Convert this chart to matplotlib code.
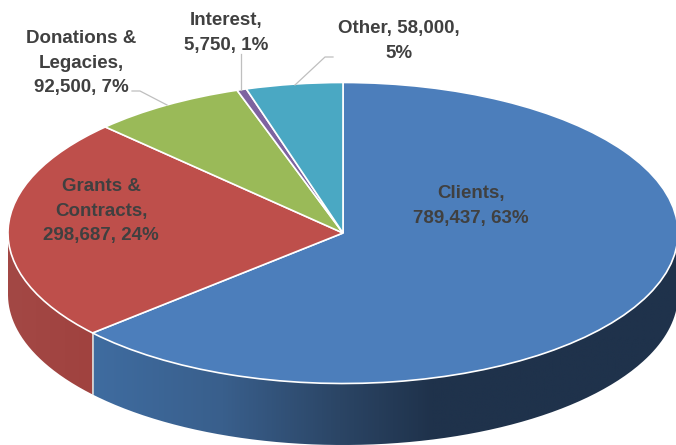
import numpy as np
import matplotlib
matplotlib.use("Agg")
import matplotlib.pyplot as plt
from matplotlib.colors import LinearSegmentedColormap
from matplotlib.patches import PathPatch
from matplotlib.path import Path

# Income by source, drawn clockwise from twelve o'clock
sources = ["Clients", "Grants & Contracts", "Donations & Legacies", "Interest", "Other"]
amounts = [789437, 298687, 92500, 5750, 58000]
top_colors = ["#4C7EBB", "#BE4F4B", "#9ABA58", "#7E63A0", "#4AA8C3"]
label_text = [
    "Clients,\n789,437, 63%",
    "Grants &\nContracts,\n298,687, 24%",
    "Donations &\nLegacies,\n92,500, 7%",
    "Interest,\n5,750, 1%",
    "Other, 58,000,\n5%",
]

W, H = 676, 445
CX, CY, RX, RY = 343.0, 233.0, 335.0, 150.5
DEPTH = 61.5 / RY

fig = plt.figure(figsize=(W / 100, H / 100), dpi=100)
ax = fig.add_axes([0, 0, 1, 1])


def px(x, y):
    """Convert image-style pixel coordinates to unit-disc coordinates."""
    return (x - CX) / RX, (CY - y) / RY


ax.pie(
    amounts,
    colors=top_colors,
    startangle=90,
    counterclock=False,
    radius=1,
    wedgeprops=dict(edgecolor="white", linewidth=1.2, zorder=5),
)

# Unequal axis scales squash the disc into the tilted ellipse
ax.set_aspect("auto")
x0, _ = px(0, 0)
x1, _ = px(W, 0)
_, y0 = px(0, H)
_, y1 = px(0, 0)
ax.set_xlim(x0, x1)
ax.set_ylim(y0, y1)
ax.axis("off")

# Rim of the disc: only the front half (180 to 360 degrees) can be seen
shares = np.array(amounts) / sum(amounts)
edges = 90 - 360 * np.concatenate([[0], np.cumsum(shares)])

rim_ramps = {
    0: [(0.0, "#3F6CA0"), (0.22, "#395F8C"), (0.42, "#2B4565"), (0.58, "#1F324B"), (1.0, "#1F324B")],
    1: [(0.0, "#A34845"), (1.0, "#A0423F")],
}
rim_spans = {0: (edges[1] + 360, 360.0), 1: (180.0, edges[1] + 360)}

for idx, (start, stop) in rim_spans.items():
    t = np.radians(np.linspace(start, stop, 200))
    xs, ys = np.cos(t), np.sin(t)
    verts = np.concatenate([
        np.column_stack([xs, ys]),
        np.column_stack([xs[::-1], ys[::-1] - DEPTH]),
        [[xs[0], ys[0]]],
    ])
    outline = Path(verts)
    clip = PathPatch(outline, transform=ax.transData, facecolor="none", edgecolor="none")
    ax.add_patch(clip)
    ramp = LinearSegmentedColormap.from_list(f"rim{idx}", rim_ramps[idx])
    shade = ax.imshow(
        np.linspace(0, 1, 512)[None, :],
        cmap=ramp,
        extent=(xs.min(), xs.max(), ys.min() - DEPTH, ys.max()),
        aspect="auto",
        zorder=2,
    )
    shade.set_clip_path(clip)

ax.set_xlim(x0, x1)
ax.set_ylim(y0, y1)

# Seam between the red and blue rims
seam_x = np.cos(np.radians(edges[1]))
seam_y = np.sin(np.radians(edges[1]))
ax.plot([seam_x, seam_x], [seam_y, seam_y - DEPTH], color="#D9D9D9", lw=1.2, zorder=4)

# Leader lines for the labels outside the disc
leaders = [
    [(132, 91), (140, 91), (167, 105)],
    [(241, 54), (241, 90)],
    [(333, 57), (325, 57), (295, 85)],
]
for pts in leaders:
    lx, ly = zip(*[px(*p) for p in pts])
    ax.plot(lx, ly, color="#BFBFBF", lw=0.9, zorder=6)

# Data labels
anchors = [(471, 206), (101, 211), (81, 63), (226, 33), (399, 41)]
for text, (ax_x, ax_y) in zip(label_text, anchors):
    tx, ty = px(ax_x, ax_y)
    ax.text(
        tx, ty, text,
        ha="center", va="center", multialignment="center",
        family="Liberation Sans", weight="bold", fontsize=13.5,
        color="#404040", linespacing=1.55, zorder=7,
    )

fig.savefig("out.png", dpi=100, facecolor="white")
